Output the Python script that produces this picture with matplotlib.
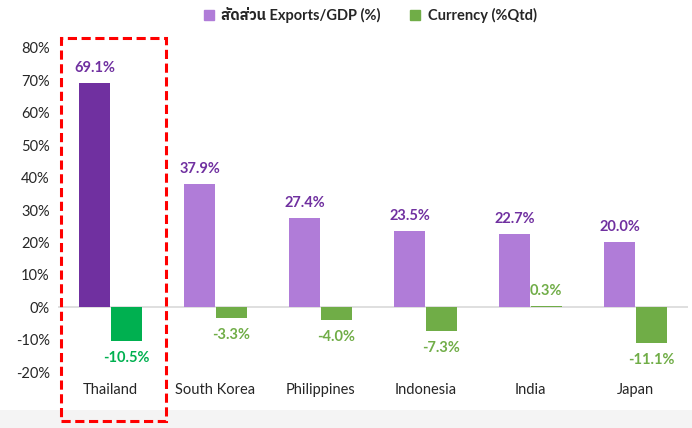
import matplotlib.pyplot as plt
from matplotlib.patches import Rectangle
import numpy as np

# タイ文字はIBM Plex Sans Thaiで補う
plt.rcParams['font.family'] = ['Lato', 'IBM Plex Sans Thai', 'Noto Sans Thai', 'DejaVu Sans']

# データ
countries = ["Thailand", "South Korea", "Philippines", "Indonesia", "India", "Japan"]
exports_gdp = [69.1, 37.9, 27.4, 23.5, 22.7, 20.0]
currency = [-10.5, -3.3, -4.0, -7.3, 0.3, -11.1]
yticks = [-20, -10, 0, 10, 20, 30, 40, 50, 60, 70, 80]
legend_labels = ["สัดส่วน Exports/GDP (%)", "Currency (%Qtd)"]

purple_light = "#B07CD8"
purple_dark = "#7030A0"
green_light = "#70AD47"
green_dark = "#00B050"

fig = plt.figure(figsize=(6.92, 4.28), dpi=100)
# 下部の薄いグレー帯
fig.patches.append(Rectangle((0, 0), 1, 18 / 428, transform=fig.transFigure,
                             facecolor="#F4F4F4", edgecolor="none", zorder=0))
ax = fig.add_axes([58 / 692, 1 - 372 / 428, 630 / 692, 324 / 428])

x = np.arange(len(countries))
w = 0.3
c1 = [purple_dark] + [purple_light] * 5
c2 = [green_dark] + [green_light] * 5
ax.bar(x - w / 2, exports_gdp, w * 0.98, color=c1, edgecolor="none", zorder=2)
ax.bar(x + w / 2, currency, w * 0.98, color=c2, edgecolor="none", zorder=2)

# ラベル
for i, v in enumerate(exports_gdp):
    ax.text(x[i] - w / 2, v + 2.5, f"{v:.1f}%", ha="center", va="bottom",
            color=purple_dark, fontsize=10.5, fontweight="bold")
for i, v in enumerate(currency):
    col = green_dark if i == 0 else green_light
    if v >= 0:
        ax.text(x[i] + w / 2, v + 2.5, f"{v:.1f}%", ha="center", va="bottom",
                color=col, fontsize=10.5, fontweight="bold")
    else:
        ax.text(x[i] + w / 2, v - 3, f"{v:.1f}%", ha="center", va="top",
                color=col, fontsize=10.5, fontweight="bold")

ax.set_xlim(-0.5, len(countries) - 0.5)
ax.set_ylim(-20, 80)
ax.set_yticks(yticks)
ax.set_yticklabels([f"{t}%" for t in yticks], fontsize=10.5, color="#262626")
ax.set_xticks(x)
ax.set_xticklabels(countries, fontsize=10.5, color="#262626")
ax.tick_params(length=0)
ax.tick_params(axis="x", pad=8)
ax.tick_params(axis="y", pad=6)
for s in ax.spines.values():
    s.set_visible(False)
ax.axhline(0, color="#D9D9D9", linewidth=1.2, zorder=1)

# 凡例
h1 = Rectangle((0, 0), 1, 1, color=purple_light)
h2 = Rectangle((0, 0), 1, 1, color=green_light)
leg = fig.legend([h1, h2], legend_labels,
                 loc="center", bbox_to_anchor=(0.535, 1 - 15 / 428), ncol=2,
                 frameon=False, fontsize=10.5, handlelength=0.7, handleheight=0.7,
                 columnspacing=2.0, handletextpad=0.5)
for t in leg.get_texts():
    t.set_fontweight("bold")
    t.set_color("#262626")

# 赤い点線の枠
fig.patches.append(Rectangle((61 / 692, 1 - 421 / 428), 105 / 692, 383 / 428,
                             transform=fig.transFigure, fill=False,
                             edgecolor="#FF0000", linewidth=2.2,
                             linestyle=(0, (3, 1.5)), zorder=5))

plt.savefig("out.png", dpi=100)
